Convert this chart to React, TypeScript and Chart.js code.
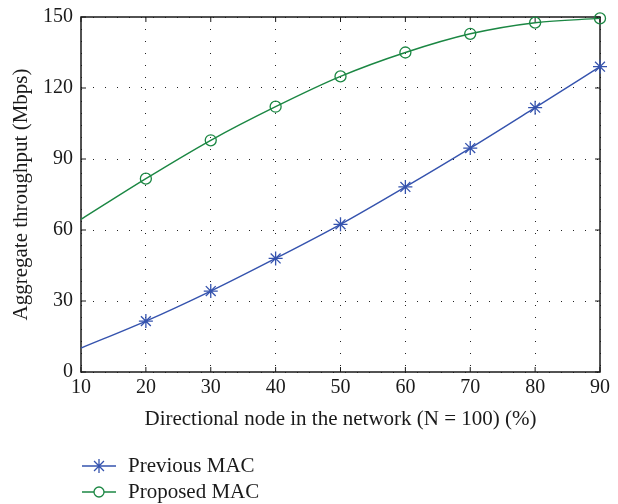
import React, { useEffect, useRef } from "react";
import { Chart, registerables } from "chart.js";

Chart.register(...registerables);

const xValues = [10, 20, 30, 40, 50, 60, 70, 80, 90];
const previousMAC = [10.1, 21.5, 34.2, 48.0, 62.4, 78.2, 94.6, 111.7, 129.0];
const proposedMAC = [64.5, 81.7, 97.9, 112.1, 124.9, 135.0, 142.9, 147.6, 149.4];
const seriesLabels = ["Previous MAC", "Proposed MAC"];
const xTitle = "Directional node in the network (N = 100) (%)";
const yTitle = "Aggregate throughput (Mbps)";

const BLUE = "#3553ae";
const GREEN = "#1b8743";
const FONT = "'Liberation Serif', 'DejaVu Serif', serif";

const framePlugin = {
  id: "frame",
  beforeDatasetsDraw(chart: any) {
    const { ctx, chartArea: a, scales } = chart;
    ctx.save();
    ctx.strokeStyle = "#1a1a1a";
    ctx.lineWidth = 1.5;
    ctx.strokeRect(a.left, a.top, a.right - a.left, a.bottom - a.top);
    ctx.lineWidth = 1;
    const tl = 5;
    scales.x.ticks.forEach((t: any) => {
      const px = scales.x.getPixelForValue(t.value);
      ctx.beginPath();
      ctx.moveTo(px, a.bottom);
      ctx.lineTo(px, a.bottom - tl);
      ctx.moveTo(px, a.top);
      ctx.lineTo(px, a.top + tl);
      ctx.stroke();
    });
    scales.y.ticks.forEach((t: any) => {
      const py = scales.y.getPixelForValue(t.value);
      ctx.beginPath();
      ctx.moveTo(a.left, py);
      ctx.lineTo(a.left + tl, py);
      ctx.moveTo(a.right, py);
      ctx.lineTo(a.right - tl, py);
      ctx.stroke();
    });
    ctx.restore();
  },
};

const legendPlugin = {
  id: "customLegend",
  afterDraw(chart: any) {
    const { ctx } = chart;
    const items = [
      { label: seriesLabels[0], color: BLUE, style: "star" },
      { label: seriesLabels[1], color: GREEN, style: "circle" },
    ];
    ctx.save();
    items.forEach((it, i) => {
      const y = 466 + i * 26;
      const x0 = 82;
      const x1 = 116;
      const xm = (x0 + x1) / 2;
      ctx.strokeStyle = it.color;
      ctx.lineWidth = 1.3;
      ctx.beginPath();
      ctx.moveTo(x0, y);
      ctx.lineTo(x1, y);
      ctx.stroke();
      if (it.style === "star") {
        const r = 7;
        ctx.beginPath();
        ctx.moveTo(xm, y - r);
        ctx.lineTo(xm, y + r);
        const d = r * 0.707;
        ctx.moveTo(xm - d, y - d);
        ctx.lineTo(xm + d, y + d);
        ctx.moveTo(xm - d, y + d);
        ctx.lineTo(xm + d, y - d);
        ctx.stroke();
      } else {
        ctx.fillStyle = "#fff";
        ctx.beginPath();
        ctx.arc(xm, y, 5, 0, Math.PI * 2);
        ctx.fill();
        ctx.stroke();
      }
      ctx.fillStyle = "#1a1a1a";
      ctx.font = `21px ${FONT}`;
      ctx.textBaseline = "middle";
      ctx.textAlign = "left";
      ctx.fillText(it.label, 128, y);
    });
    ctx.restore();
  },
};

export default function App() {
  const ref = useRef<HTMLCanvasElement | null>(null);
  useEffect(() => {
    if (!ref.current) return;
    const chart = new Chart(ref.current, {
      type: "line",
      data: {
        datasets: [
          {
            label: seriesLabels[0],
            data: xValues.map((x, i) => ({ x, y: previousMAC[i] })),
            borderColor: BLUE,
            backgroundColor: BLUE,
            borderWidth: 1.4,
            pointStyle: "star",
            pointRadius: xValues.map((x, i) => (i === 0 ? 0 : 7)),
            pointBorderWidth: 1.3,
            pointBorderColor: BLUE,
            cubicInterpolationMode: "monotone",
            clip: false,
          },
          {
            label: seriesLabels[1],
            data: xValues.map((x, i) => ({ x, y: proposedMAC[i] })),
            borderColor: GREEN,
            backgroundColor: "rgba(255,255,255,0)",
            borderWidth: 1.4,
            pointStyle: "circle",
            pointRadius: xValues.map((x, i) => (i === 0 ? 0 : 5.5)),
            pointBorderWidth: 1.3,
            pointBorderColor: GREEN,
            cubicInterpolationMode: "monotone",
            clip: false,
          },
        ],
      },
      options: {
        animation: false,
        responsive: true,
        maintainAspectRatio: false,
        layout: { padding: { top: 17, right: 18, left: 0, bottom: 72 } },
        plugins: {
          legend: { display: false },
          tooltip: { enabled: false },
        },
        scales: {
          x: {
            type: "linear",
            min: 10,
            max: 90,
            ticks: { stepSize: 10, color: "#1a1a1a", font: { family: FONT, size: 20 }, padding: 4 },
            grid: { color: "#222", lineWidth: 1, drawTicks: false },
            border: { display: false, dash: [1, 11] },
            title: { display: true, text: xTitle, color: "#1a1a1a", font: { family: FONT, size: 21 }, padding: { top: 4, bottom: 0 } },
            afterFit: (s: any) => {
              s.height = 60;
              s.paddingLeft = 0;
              s.paddingRight = 0;
            },
          },
          y: {
            min: 0,
            max: 150,
            ticks: { stepSize: 30, color: "#1a1a1a", font: { family: FONT, size: 20 }, padding: 8 },
            grid: { color: "#222", lineWidth: 1, drawTicks: false },
            border: { display: false, dash: [1, 11] },
            title: { display: true, text: yTitle, color: "#1a1a1a", font: { family: FONT, size: 21 }, padding: { top: 9, bottom: 0 } },
            afterFit: (s: any) => {
              s.width = 81;
              s.paddingTop = 0;
              s.paddingBottom = 0;
            },
          },
        },
      },
      plugins: [framePlugin, legendPlugin],
    });
    return () => chart.destroy();
  }, []);
  return (
    <div style={{ position: "fixed", left: 0, top: 0, width: 618, height: 504 }}>
      <canvas ref={ref} />
    </div>
  );
}
